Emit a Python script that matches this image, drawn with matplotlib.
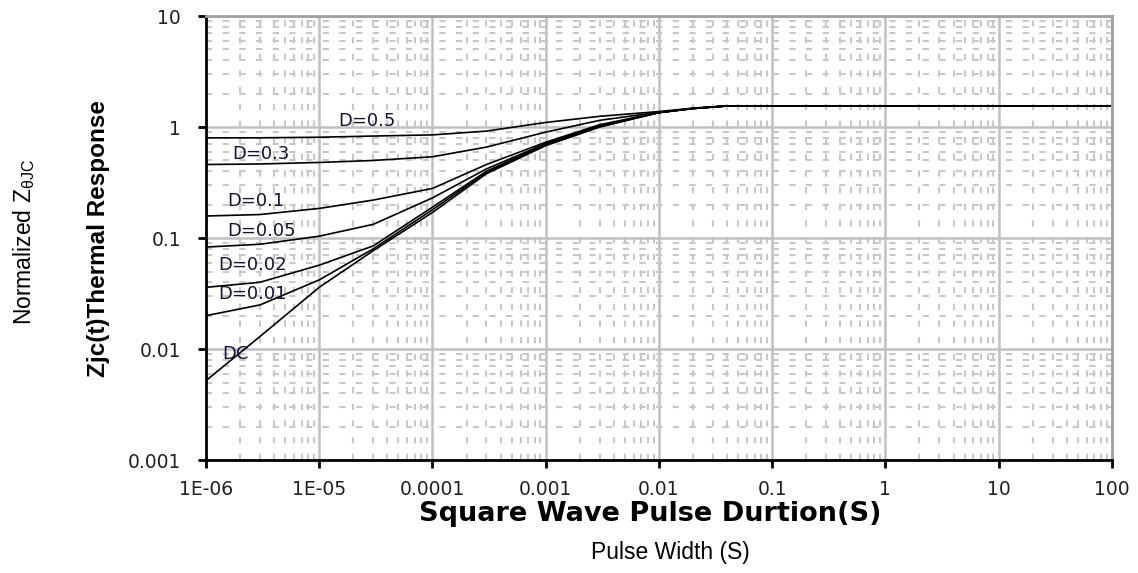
import numpy as np
import matplotlib.pyplot as plt
from matplotlib.ticker import LogLocator, FixedLocator, NullFormatter

# Pulse duration (s) where the curves were read
pulse_t = [1e-6, 3e-6, 1e-5, 3e-5, 1e-4, 3e-4, 1e-3, 3e-3, 1e-2, 2e-2, 4e-2, 100]

# Normalized thermal response for each duty cycle
z_d05 = [0.80, 0.80, 0.81, 0.83, 0.85, 0.92, 1.10, 1.25, 1.38, 1.48, 1.55, 1.55]
z_d03 = [0.46, 0.465, 0.48, 0.50, 0.54, 0.66, 0.90, 1.15, 1.36, 1.47, 1.55, 1.55]
z_d01 = [0.158, 0.163, 0.185, 0.22, 0.28, 0.46, 0.73, 1.05, 1.35, 1.47, 1.55, 1.55]
z_d005 = [0.083, 0.088, 0.104, 0.133, 0.23, 0.42, 0.71, 1.03, 1.35, 1.47, 1.55, 1.55]
z_d002 = [0.036, 0.040, 0.057, 0.085, 0.19, 0.40, 0.70, 1.02, 1.35, 1.47, 1.55, 1.55]
z_d001 = [0.020, 0.025, 0.042, 0.080, 0.18, 0.39, 0.69, 1.01, 1.35, 1.47, 1.55, 1.55]
z_dc = [0.0052, 0.013, 0.036, 0.077, 0.17, 0.38, 0.68, 1.00, 1.35, 1.47, 1.55, 1.55]

series = [z_d05, z_d03, z_d01, z_d005, z_d002, z_d001, z_dc]
labels = ['D=0.5', 'D=0.3', 'D=0.1', 'D=0.05', 'D=0.02', 'D=0.01', 'DC']
label_x = [1.46e-5, 1.7e-6, 1.53e-6, 1.53e-6, 1.28e-6, 1.28e-6, 1.38e-6]
label_y = [1.14, 0.577, 0.218, 0.117, 0.0577, 0.0316, 0.0091]

x_ticks = [1e-6, 1e-5, 1e-4, 1e-3, 1e-2, 1e-1, 1, 10, 100]
x_ticklabels = ['1E-06', '1E-05', '0.0001', '0.001', '0.01', '0.1', '1', '10', '100']
y_ticks = [0.001, 0.01, 0.1, 1, 10]
y_ticklabels = ['0.001', '0.01', '0.1', '1', '10']

fig = plt.figure(figsize=(11.38, 5.73), dpi=100)
ax = fig.add_axes([0.181, 0.197, 0.796, 0.775])
ax.set_xscale('log')
ax.set_yscale('log')
ax.set_xlim(1e-6, 100)
ax.set_ylim(0.001, 10)

# grid: solid major, dashed minor
ax.xaxis.set_minor_locator(LogLocator(base=10, subs=np.arange(2, 10)))
ax.yaxis.set_minor_locator(LogLocator(base=10, subs=np.arange(2, 10)))
ax.xaxis.set_minor_formatter(NullFormatter())
ax.yaxis.set_minor_formatter(NullFormatter())
ax.grid(which='major', color='#c0c0c0', linewidth=1.8, linestyle='-')
ax.grid(which='minor', color='#c8c8c8', linewidth=1.5, linestyle=(0, (3, 5)))
ax.set_axisbelow(True)

for z in series:
    ax.plot(pulse_t, z, color='black', linewidth=1.2)

for lab, lx, ly in zip(labels, label_x, label_y):
    ax.text(lx, ly, lab, fontsize=13, color='#1a1030', family='DejaVu Sans',
            ha='left', va='center')

ax.xaxis.set_major_locator(FixedLocator(x_ticks))
ax.set_xticklabels(x_ticklabels)
ax.yaxis.set_major_locator(FixedLocator(y_ticks))
ax.set_yticklabels(y_ticklabels)
ax.tick_params(which='major', direction='out', length=6, width=2, labelsize=13.5,
               colors='black', labelcolor='#202020')
ax.tick_params(axis='x', pad=8)
ax.tick_params(axis='y', pad=12)
ax.tick_params(which='minor', length=0)

for s in ['left', 'bottom']:
    ax.spines[s].set_color('black')
    ax.spines[s].set_linewidth(2)
for s in ['top', 'right']:
    ax.spines[s].set_color('#a0a0a0')
    ax.spines[s].set_linewidth(2)

ax.set_xlabel('Square Wave Pulse Durtion(S)', fontsize=19.5, fontweight='bold',
              family='DejaVu Sans')
ax.xaxis.set_label_coords(0.490, -0.121)
ax.xaxis.label.set_va('center')

ax.set_ylabel('Zjc(t)Thermal Response', fontsize=17.5, fontweight='bold',
              family=['Liberation Sans Narrow', 'Liberation Sans'])
ax.yaxis.set_label_coords(-0.119, 0.5)
ax.yaxis.label.set_va('center')

fig.text(0.589, 0.036, 'Pulse Width (S)', fontsize=16.5,
         family=['Liberation Sans', 'DejaVu Sans'], ha='center', va='center')
fig.text(0.021, 0.578, r'Normalized Z$_{\mathregular{\theta JC}}$', fontsize=16.5,
         family=['Liberation Sans', 'DejaVu Sans'], rotation=90, ha='center', va='center')

fig.savefig('out.png', dpi=100)
